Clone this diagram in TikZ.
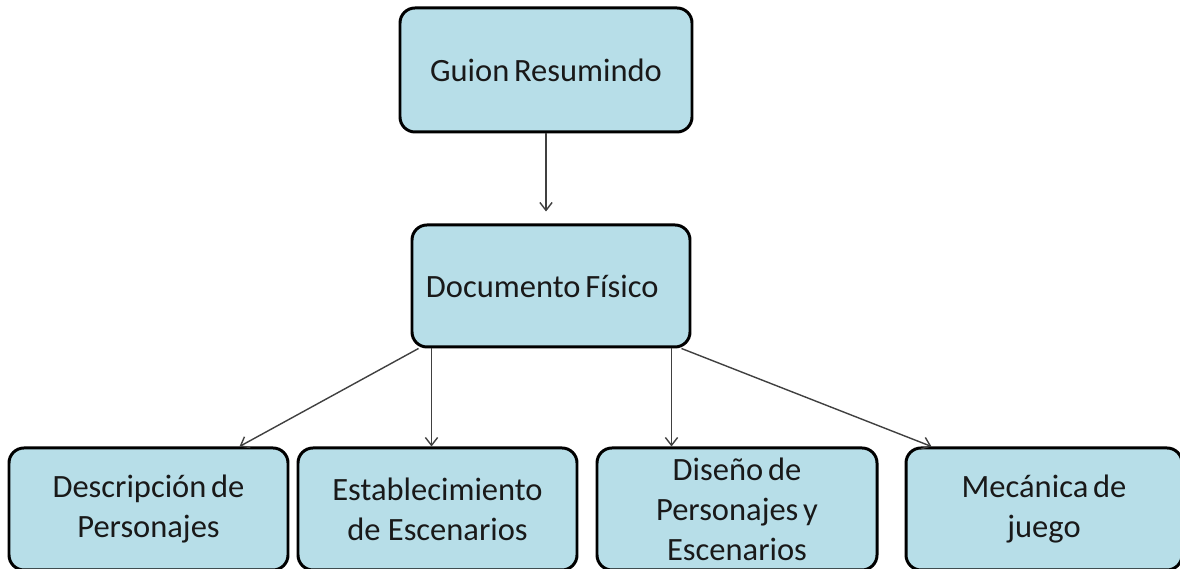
\documentclass[tikz,border=0pt]{standalone}
\usepackage{fontspec}
\setmainfont{Carlito}
\usetikzlibrary{arrows.meta}
\definecolor{boxfill}{HTML}{B7DEE8}
\definecolor{linegray}{HTML}{404040}
\begin{document}
\begin{tikzpicture}[
    caja/.style={draw=black, line width=1.7pt, fill=boxfill, rounded corners=0.3cm, align=center,
        minimum width=5.58cm, minimum height=2.44cm, inner sep=0pt, text=black!90,
        font=\fontsize{18.5}{22.7}\selectfont},
    flecha/.style={draw=linegray, line width=0.8pt, -{Straight Barb[length=4.5pt,width=7pt]}}
]
            \useasboundingbox (0,0) rectangle (23.6,11.38);
            \clip (0,0) rectangle (23.6,11.38);
            \node[caja, minimum width=5.84cm, minimum height=2.48cm] (guion) at (10.92,9.98) {Guion\hspace{-0.08em} Resumindo};
            \node[caja, minimum width=5.56cm] (doc) at (11.02,5.66) {Documento\hspace{-0.08em} Físico\hspace{0.35cm}};
            \node[caja] (desc) at (2.97,1.20) {Descripción\hspace{-0.08em} de\\Personajes};
            \node[caja] (estab) at (8.75,1.20) {Establecimiento\\de Escenarios};
            \node[caja, minimum width=5.60cm] (diseno) at (14.74,1.20) {Diseño\hspace{-0.08em} de\\Personajes\hspace{-0.08em} y\\Escenarios};
            \node[caja, minimum width=5.52cm] (mec) at (20.88,1.20) {Mecánica\hspace{-0.08em} de\\juego};
            \draw[flecha, shorten >=0.24cm] (guion.south) -- (guion.south |- doc.north);
            \draw[flecha] ([xshift=0.16cm]doc.south west) -- ([xshift=-1cm]desc.north east);
            \draw[flecha] ([xshift=0.42cm]doc.south west) -- ([xshift=0.42cm]doc.south west |- estab.north);
            \draw[flecha] ([xshift=-0.4cm]doc.south east) -- ([xshift=-0.4cm]doc.south east |- diseno.north);
            \draw[flecha] ([xshift=-0.2cm]doc.south east) -- ([xshift=0.54cm]mec.north west);
        \end{tikzpicture}
\end{document}
